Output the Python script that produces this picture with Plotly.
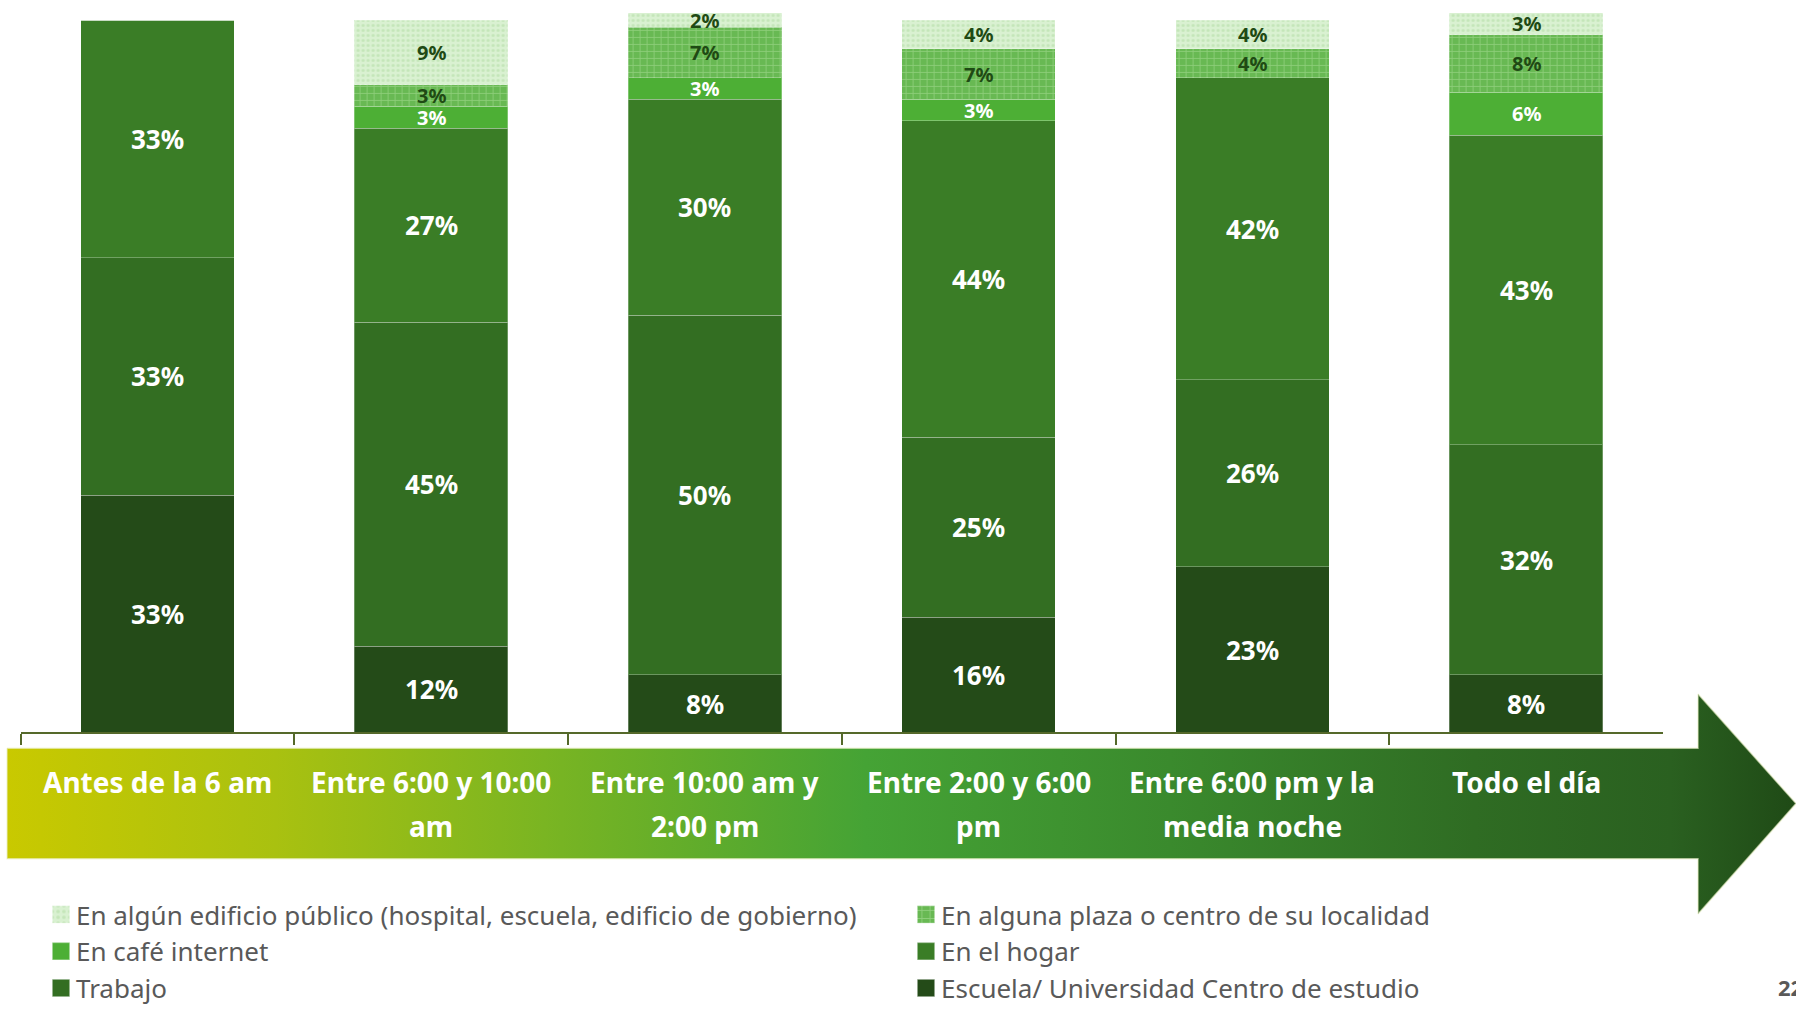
import plotly.graph_objects as go

# ---------------- data ----------------
categories = ["Antes de la 6 am", "Entre 6:00 y 10:00 am", "Entre 10:00 am y 2:00 pm",
              "Entre 2:00 y 6:00 pm", "Entre 6:00 pm y la media noche", "Todo el día"]
category_line1 = ["Antes de la 6 am", "Entre 6:00 y 10:00", "Entre 10:00 am y",
                  "Entre 2:00 y 6:00", "Entre 6:00 pm y la", "Todo el día"]
category_line2 = ["", "am", "2:00 pm", "pm", "media noche", ""]

escuela = [33, 12, 8, 16, 23, 8]
trabajo = [33, 45, 50, 25, 26, 32]
hogar = [33, 27, 30, 44, 42, 43]
cafe = [0, 3, 3, 3, 0, 6]
plaza = [0, 3, 7, 7, 4, 8]
edificio = [0, 9, 2, 4, 4, 3]

series_names = ["Escuela/ Universidad Centro de estudio", "Trabajo", "En el hogar",
                "En café internet", "En alguna plaza o centro de su localidad",
                "En algún edificio público (hospital, escuela, edificio de gobierno)"]
series_values = [escuela, trabajo, hogar, cafe, plaza, edificio]

page_number = "22"

# ---------------- style ----------------
W, H = 1796, 1012
colors = ["#244b18", "#336e22", "#3a7d26", "#4daf35", "#6cbd58", "#d7f0cf"]
patterns = [None, None, None, None,
            dict(shape="+", fgcolor="#8fcf7c", bgcolor="#68b953", size=7, solidity=0.22, fillmode="replace"),
            dict(shape=".", fgcolor="#c4e6b9", bgcolor="#d9f1d1", size=5, solidity=0.3, fillmode="replace")]
label_colors = ["white", "white", "white", "white", "#1f4a14", "#1f4a14"]
label_sizes = [26, 26, 26, 20, 20, 20]
FONT = "Noto Sans"

fig = go.Figure()

# Gradient arrow (decoration) on a pixel-unit overlay subplot drawn beneath the bars
arrow_x = [7, 1698, 1698, 1796, 1698, 1698, 7, 7]
arrow_y = [758, 758, 703, 814, 926, 870, 870, 758]
fig.add_trace(go.Scatter(
    x=arrow_x, y=arrow_y, mode="lines", fill="toself",
    line=dict(width=1.5, color="rgba(235,240,200,0.6)"),
    fillcolor="#4aa535",
    fillgradient=dict(type="horizontal", colorscale=[
        [0.0, "#c9c900"], [0.15, "#a9c110"], [0.30, "#7ab522"], [0.48, "#45a335"],
        [0.65, "#3a8a2d"], [0.82, "#2f6c23"], [0.93, "#2a6020"], [1.0, "#1f4a16"]]),
    hoverinfo="skip", showlegend=False, xaxis="x", yaxis="y"))

for name, vals, col, pat in zip(series_names, series_values, colors, patterns):
    marker = dict(color=col, line=dict(color="rgba(255,255,255,0.28)", width=1))
    if pat:
        marker["pattern"] = pat
    fig.add_trace(go.Bar(x=categories, y=vals, name=name, marker=marker,
                         width=0.561, xaxis="x2", yaxis="y2", hoverinfo="skip"))

annotations = []
# value labels centered in each stacked segment
for i, cat in enumerate(categories):
    base = 0
    for s, vals in enumerate(series_values):
        v = vals[i]
        if v > 0:
            annotations.append(dict(
                x=cat, y=base + v / 2, xref="x2", yref="y2", text=f"{v}%", showarrow=False,
                font=dict(family=FONT, size=label_sizes[s], color=label_colors[s],
                          weight="bold")))
        base += v
# category labels inside the arrow
for cat, l1, l2 in zip(categories, category_line1, category_line2):
    for txt, ypx in ((l1, 792), (l2, 837)):
        if txt:
            annotations.append(dict(x=cat, y=1 - ypx / H, xref="x2", yref="paper", text=txt,
                                    showarrow=False, yanchor="middle",
                                    font=dict(family=FONT, size=28, color="white", weight="bold")))
annotations.append(dict(x=1776 / W, y=1 - 1000 / H, xref="paper", yref="paper", text=page_number,
                        showarrow=False, xanchor="left", yanchor="middle",
                        font=dict(family=FONT, size=22, color="#595959", weight="bold")))

fig.update_layout(
    width=W, height=H, autosize=False,
    margin=dict(l=0, r=0, t=0, b=0, pad=0),
    paper_bgcolor="white", plot_bgcolor="rgba(0,0,0,0)",
    barmode="stack", bargap=0.439,
    font=dict(family=FONT),
    xaxis=dict(domain=[0, 1], range=[0, W], visible=False, fixedrange=True),
    yaxis=dict(domain=[0, 1], range=[H, 0], visible=False, fixedrange=True),
    xaxis2=dict(domain=[20.6 / W, 1663 / W], range=[-0.5, 5.5], anchor="y2",
                showline=True, linecolor="#55692a", linewidth=2,
                ticks="outside", tickson="boundaries", ticklen=11, tickwidth=2,
                tickcolor="#55692a", showticklabels=False, showgrid=False, fixedrange=True),
    yaxis2=dict(domain=[270 / H, 1 - 13.1 / H], range=[0, 100], anchor="x2",
                visible=False, showgrid=False, fixedrange=True),
    legend=dict(orientation="h", x=36 / W, xanchor="left", y=1 - 903 / H, yanchor="top",
                traceorder="reversed", entrywidth=820, entrywidthmode="pixels",
                font=dict(family=FONT, size=26, color="#595959"),
                bgcolor="rgba(0,0,0,0)"),
    annotations=annotations,
)

post = """
document.body.style.margin='0';
var gd = document.getElementById('{plot_id}');
gd.querySelectorAll('.legend .scrollbox').forEach(function(g){ g.removeAttribute('clip-path'); });
gd.querySelectorAll('.legend .legendpoints path').forEach(function(p){
  var t = p.getAttribute('transform') || '';
  p.setAttribute('transform', 'translate(5,0) ' + t + ' scale(1.45)');
});
"""
fig.write_html("out.html", config={"displayModeBar": False}, post_script=post)
